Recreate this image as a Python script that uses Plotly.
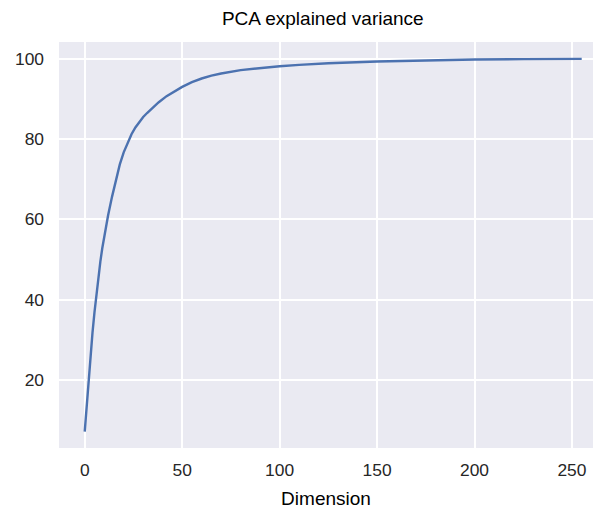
import plotly.graph_objects as go

# Values (cumulative explained variance, %)
dimensions = [0, 1, 2, 3, 4, 5, 6, 7, 8, 9, 10, 12, 14, 16, 18, 20, 22, 24, 26,
              28, 30, 32, 35, 38, 42, 46, 50, 55, 60, 65, 70, 80, 90, 100,
              110, 125, 150, 175, 200, 225, 255]
explained = [7.1, 13.9, 20.3, 26.3, 31.8, 36.8, 41.4, 45.6, 49.4, 52.8, 55.9,
             61.0, 65.6, 69.9, 73.7, 76.7, 79.2, 81.2, 82.9, 84.3, 85.5, 86.5,
             87.9, 89.2, 90.7, 91.9, 93.0, 94.2, 95.1, 95.8, 96.35, 97.2,
             97.75, 98.15, 98.5, 98.9, 99.35, 99.65, 99.83, 99.94, 100.0]

x_ticks = [0, 50, 100, 150, 200, 250]
y_ticks = [20, 40, 60, 80, 100]

FONT = "Liberation Sans, Arial, sans-serif"
TXT = "#262626"

fig = go.Figure()
fig.add_trace(go.Scatter(
    x=dimensions, y=explained, mode="lines",
    line=dict(color="#4C72B0", width=2.4),
    showlegend=False, hoverinfo="x+y",
))

fig.update_layout(
    width=593, height=513,
    margin=dict(l=59, r=0, t=42, b=65),
    paper_bgcolor="white",
    plot_bgcolor="#EAEAF2",
    font=dict(family=FONT, color=TXT),
    title=dict(text="PCA explained variance", x=0.494, xref="paper",
               xanchor="center", y=1 - 18 / 513, yref="container",
               yanchor="middle", font=dict(size=19, color="black", family=FONT)),
)
fig.update_xaxes(
    range=[-13.2, 260.8], tickvals=x_ticks, ticktext=[str(v) for v in x_ticks],
    showgrid=True, gridcolor="white", gridwidth=1.6, zeroline=False,
    showline=False, ticks="", ticklabelstandoff=10,
    tickfont=dict(size=17.4, color=TXT, family=FONT),
    title=dict(text="Dimension", font=dict(size=19, color="black", family=FONT),
               standoff=12),
    automargin=False,
)
fig.update_yaxes(
    range=[3.0, 104.2], tickvals=y_ticks, ticktext=[str(v) for v in y_ticks],
    showgrid=True, gridcolor="white", gridwidth=1.6, zeroline=False,
    showline=False, ticks="", ticklabelstandoff=14,
    tickfont=dict(size=17.4, color=TXT, family=FONT),
    automargin=False,
)

fig.write_html(
    "out.html",
    config={"displayModeBar": False},
    post_script="document.body.style.margin='0';document.body.style.overflow='hidden';",
)
